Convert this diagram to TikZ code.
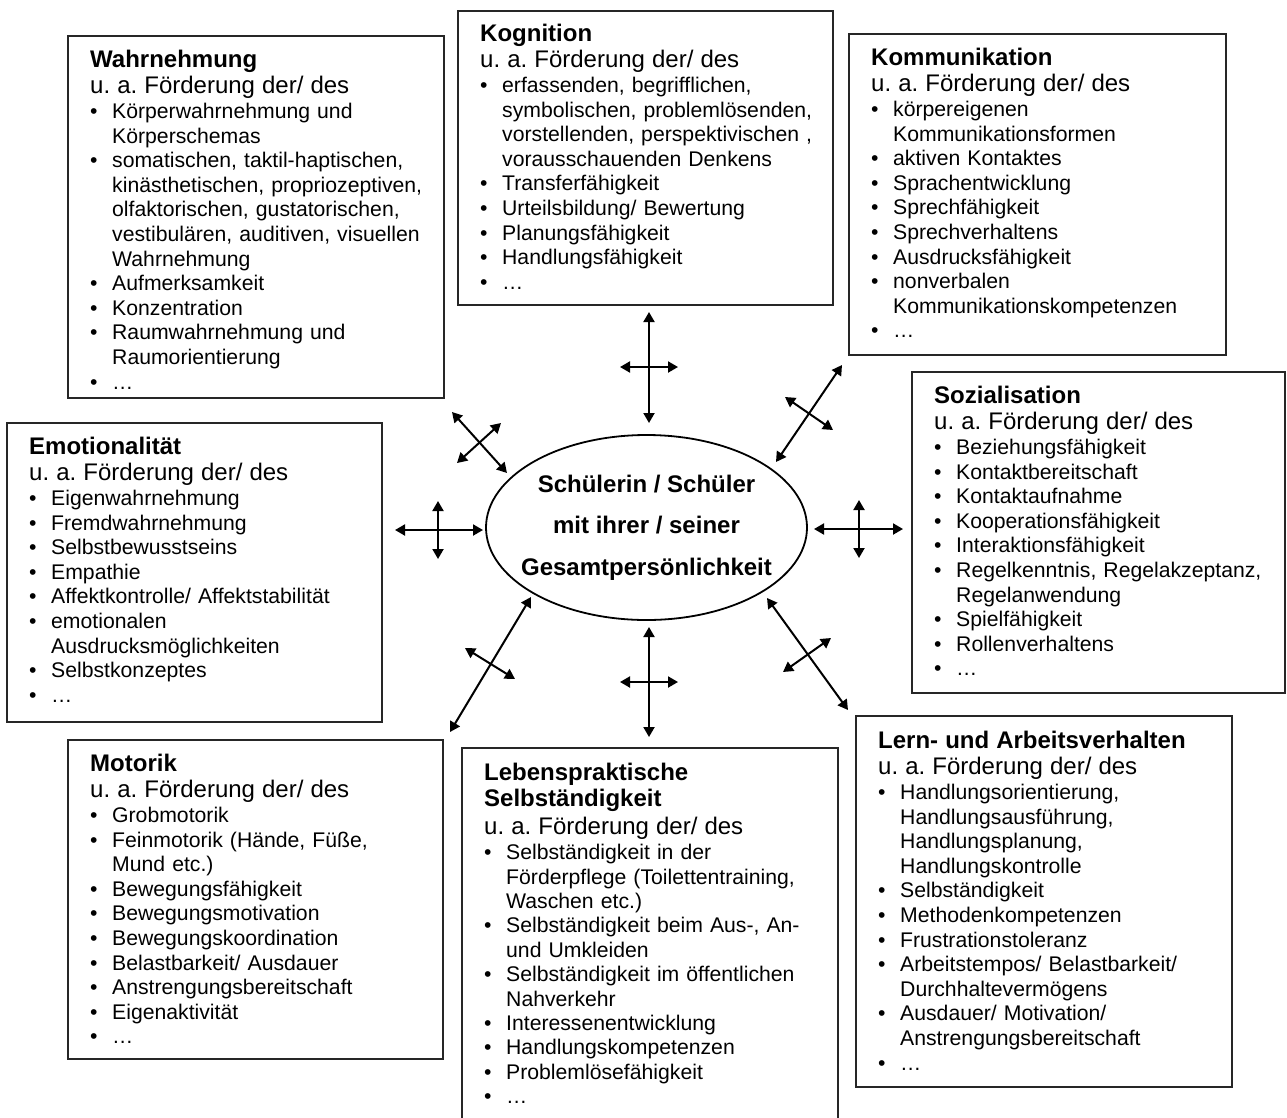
\documentclass[tikz,border=0pt]{standalone}
\usepackage{fontspec}
\setmainfont{Liberation Sans}
\usetikzlibrary{shapes.geometric,arrows.meta}
\frenchspacing
\newcommand\bitem[1]{\par\noindent\hbox to 22pt{\textbullet\hss}#1}
\newcommand\cont[1]{\par\noindent\hspace*{22pt}#1}
\newcommand\head[1]{\fontsize{24}{26.5}\selectfont\textbf{#1}\par u. a. Förderung der/ des\par\fontsize{21.2}{24.6}\selectfont\vspace{0.4pt}}
\newcommand\headtwo[2]{\fontsize{24}{26.7}\selectfont\textbf{#1}\par\textbf{#2}\par\fontsize{24}{28}\selectfont u. a. Förderung der/ des\par\fontsize{21.2}{24.4}\selectfont\vspace{0.6pt}}
\begin{document}
\begin{tikzpicture}[x=1pt,y=-1pt,
  boxst/.style={draw=black!85, line width=1.6pt, rectangle, inner sep=0pt, outer sep=0pt, anchor=north west},
  txt/.style={anchor=base west, inner sep=0pt, text width=370pt, align=left, font=\fontsize{21.2}{24.6}\selectfont\frenchspacing},
  dbl/.style={{Triangle[length=10pt,width=11pt]}-{Triangle[length=10pt,width=11pt]}, line width=2pt, black}]
\path[use as bounding box] (0,0) rectangle (1287,1117);
\clip (0,0) rectangle (1287,1117);
\fill[white] (0,0) rectangle (1287,1117);

% boxes
\node[boxst, minimum width=376pt, minimum height=362pt] (wahrB) at (68,36) {};
\node[boxst, minimum width=375pt, minimum height=294pt] (kognB) at (458,11) {};
\node[boxst, minimum width=377pt, minimum height=321pt] (kommB) at (849,34) {};
\node[boxst, minimum width=373pt, minimum height=321pt] (soziB) at (912,372) {};
\node[boxst, minimum width=375pt, minimum height=299pt] (emotB) at (7,423) {};
\node[boxst, minimum width=375pt, minimum height=319pt] (motoB) at (68,740) {};
\node[boxst, minimum width=376pt, minimum height=400pt] (lebeB) at (462,748) {};
\node[boxst, minimum width=376pt, minimum height=371pt] (lernB) at (856,716) {};

% texts
\node[txt] (wahrT) at (90,67) {\head{Wahrnehmung}
\bitem{Körperwahrnehmung und}
\cont{Körperschemas}
\bitem{somatischen, taktil-haptischen,}
\cont{kinästhetischen, propriozeptiven,}
\cont{olfaktorischen, gustatorischen,}
\cont{vestibulären, auditiven, visuellen}
\cont{Wahrnehmung}
\bitem{Aufmerksamkeit}
\bitem{Konzentration}
\bitem{Raumwahrnehmung und}
\cont{Raumorientierung}
\bitem{…}\par};

\node[txt] (kognT) at (480,41) {\head{Kognition}
\bitem{erfassenden, begrifflichen,}
\cont{symbolischen, problemlösenden,}
\cont{vorstellenden, perspektivischen ,}
\cont{vorausschauenden Denkens}
\bitem{Transferfähigkeit}
\bitem{Urteilsbildung/ Bewertung}
\bitem{Planungsfähigkeit}
\bitem{Handlungsfähigkeit}
\bitem{…}\par};

\node[txt] (kommT) at (871,65) {\head{Kommunikation}
\bitem{körpereigenen}
\cont{Kommunikationsformen}
\bitem{aktiven Kontaktes}
\bitem{Sprachentwicklung}
\bitem{Sprechfähigkeit}
\bitem{Sprechverhaltens}
\bitem{Ausdrucksfähigkeit}
\bitem{nonverbalen}
\cont{Kommunikationskompetenzen}
\bitem{…}\par};

\node[txt] (soziT) at (934,403) {\head{Sozialisation}
\bitem{Beziehungsfähigkeit}
\bitem{Kontaktbereitschaft}
\bitem{Kontaktaufnahme}
\bitem{Kooperationsfähigkeit}
\bitem{Interaktionsfähigkeit}
\bitem{Regelkenntnis, Regelakzeptanz,}
\cont{Regelanwendung}
\bitem{Spielfähigkeit}
\bitem{Rollenverhaltens}
\bitem{…}\par};

\node[txt] (emotT) at (29,454) {\head{Emotionalität}
\bitem{Eigenwahrnehmung}
\bitem{Fremdwahrnehmung}
\bitem{Selbstbewusstseins}
\bitem{Empathie}
\bitem{Affektkontrolle/ Affektstabilität}
\bitem{emotionalen}
\cont{Ausdrucksmöglichkeiten}
\bitem{Selbstkonzeptes}
\bitem{…}\par};

\node[txt] (motoT) at (90,771) {\head{Motorik}
\bitem{Grobmotorik}
\bitem{Feinmotorik (Hände, Füße,}
\cont{Mund etc.)}
\bitem{Bewegungsfähigkeit}
\bitem{Bewegungsmotivation}
\bitem{Bewegungskoordination}
\bitem{Belastbarkeit/ Ausdauer}
\bitem{Anstrengungsbereitschaft}
\bitem{Eigenaktivität}
\bitem{…}\par};

\node[txt] (lebeT) at (484,780) {\headtwo{Lebenspraktische}{Selbständigkeit}
\bitem{Selbständigkeit in der}
\cont{Förderpflege (Toilettentraining,}
\cont{Waschen etc.)}
\bitem{Selbständigkeit beim Aus-, An-}
\cont{und Umkleiden}
\bitem{Selbständigkeit im öffentlichen}
\cont{Nahverkehr}
\bitem{Interessenentwicklung}
\bitem{Handlungskompetenzen}
\bitem{Problemlösefähigkeit}
\bitem{…}\par};

\node[txt] (lernT) at (878,748) {\head{Lern- und Arbeitsverhalten}
\bitem{Handlungsorientierung,}
\cont{Handlungsausführung,}
\cont{Handlungsplanung,}
\cont{Handlungskontrolle}
\bitem{Selbständigkeit}
\bitem{Methodenkompetenzen}
\bitem{Frustrationstoleranz}
\bitem{Arbeitstempos/ Belastbarkeit/}
\cont{Durchhaltevermögens}
\bitem{Ausdauer/ Motivation/}
\cont{Anstrengungsbereitschaft}
\bitem{…}\par};

% centre
\node[ellipse, draw, line width=1.8pt, minimum width=321pt, minimum height=185pt, inner sep=0pt] (ctr) at (646.5,527.5) {};
\node[inner sep=0pt, align=center, font=\fontsize{24}{41.3}\selectfont\bfseries] (ctrT) at (ctr.center) {Schülerin / Schüler\\mit ihrer / seiner\\Gesamtpersönlichkeit};

% arrow end points
\coordinate (n1) at (649,312); \coordinate (n2) at (649,423);
\coordinate (n3) at (620,367); \coordinate (n4) at (678,367);
\coordinate (s1) at (649,627); \coordinate (s2) at (649,737);
\coordinate (s3) at (620,682); \coordinate (s4) at (678,682);
\coordinate (w1) at (395,530); \coordinate (w2) at (483,530);
\coordinate (w3) at (438,501); \coordinate (w4) at (438,559);
\coordinate (e1) at (814,529); \coordinate (e2) at (903,529);
\coordinate (e3) at (859,500); \coordinate (e4) at (859,558);
\coordinate (nw1) at (452,412); \coordinate (nw2) at (507,473);
\coordinate (nw3) at (457,463); \coordinate (nw4) at (501,423);
\coordinate (ne1) at (776,462); \coordinate (ne2) at (842,365);
\coordinate (ne3) at (785,397); \coordinate (ne4) at (833,430);
\coordinate (sw1) at (531,597); \coordinate (sw2) at (450,732);
\coordinate (sw3) at (465,648); \coordinate (sw4) at (515,679);
\coordinate (se1) at (767,598); \coordinate (se2) at (848,710);
\coordinate (se3) at (783,672); \coordinate (se4) at (831,638);

\foreach \a in {n,s,w,e,nw,ne,sw,se}{
  \draw[dbl] (\a1) -- (\a2);
  \draw[dbl] (\a3) -- (\a4);
}
\end{tikzpicture}
\end{document}
